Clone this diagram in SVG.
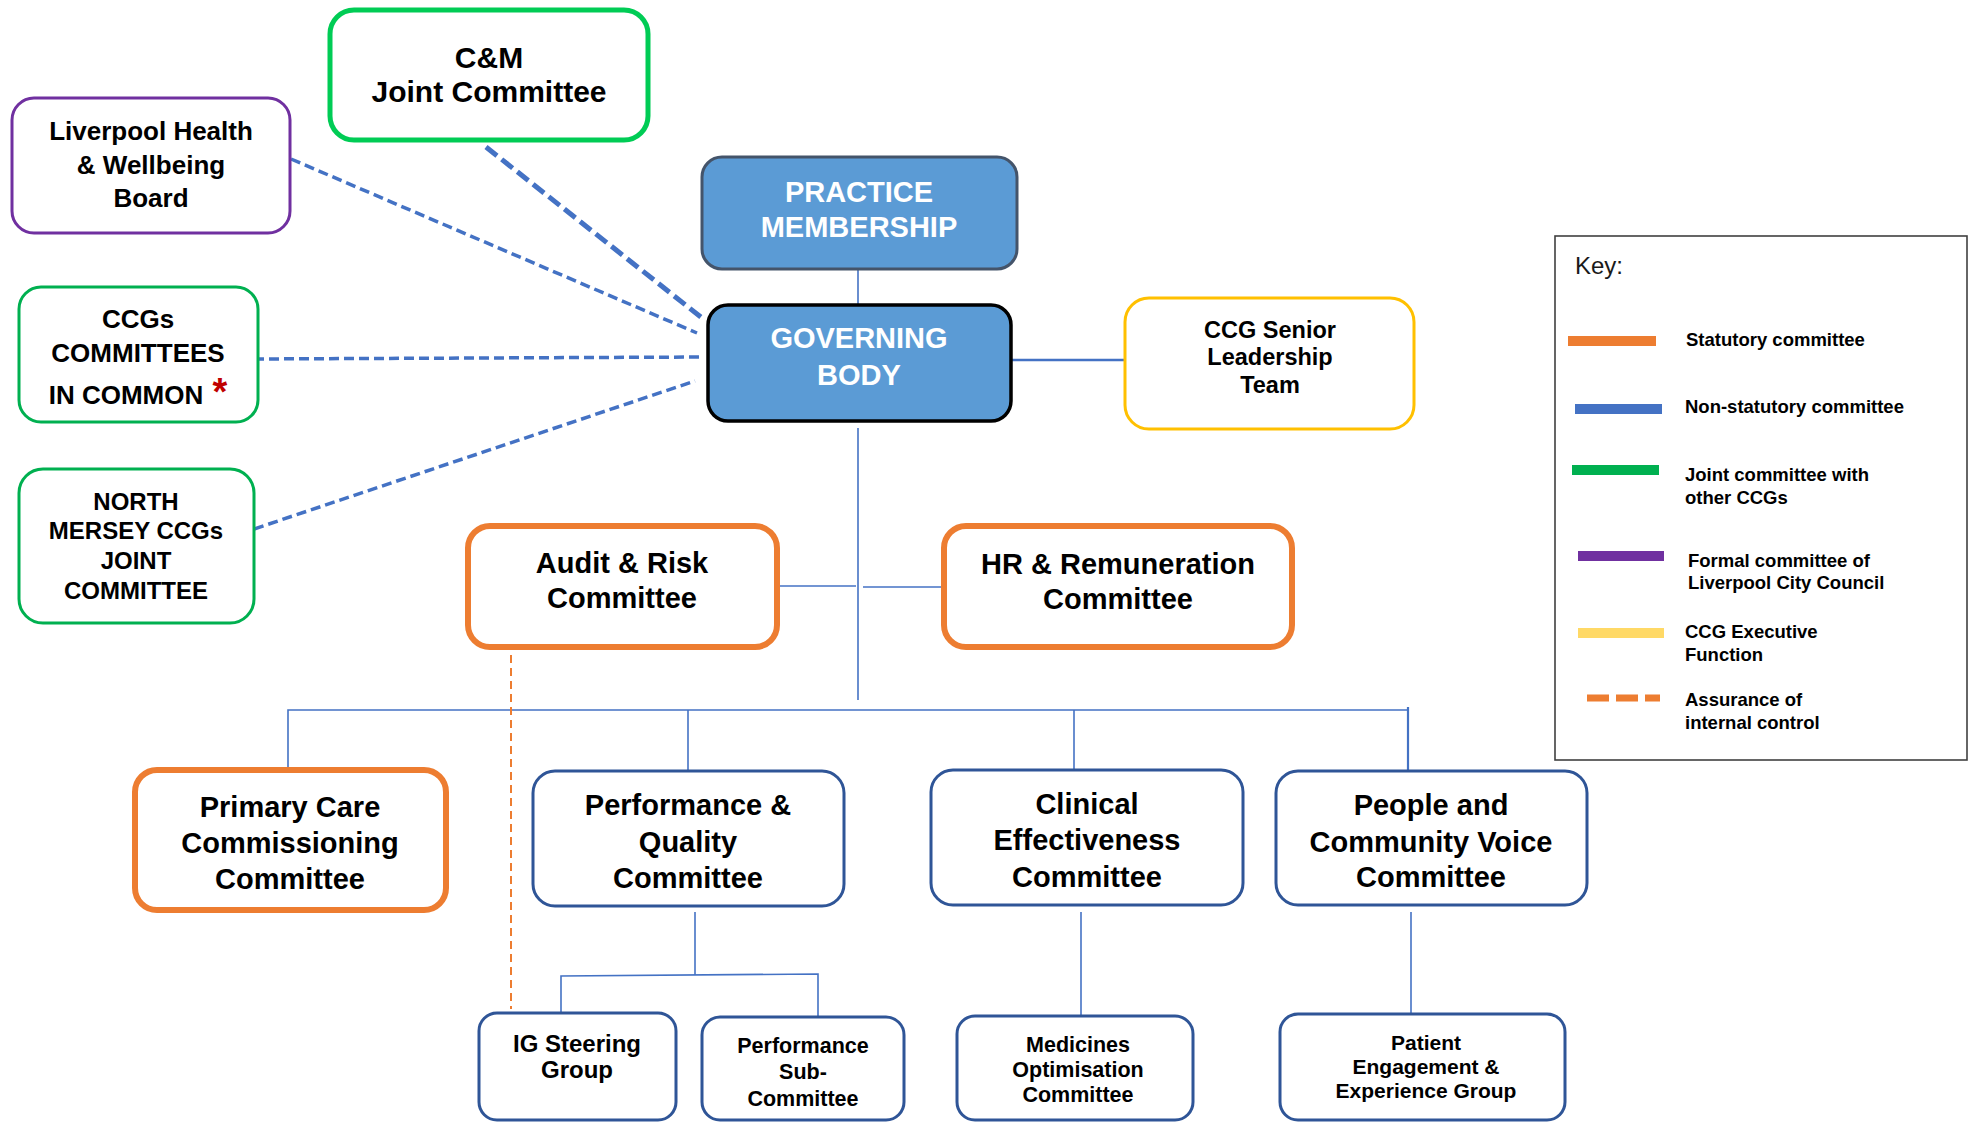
<svg xmlns="http://www.w3.org/2000/svg" width="1973" height="1123" viewBox="0 0 1973 1123">
<style>
  text { font-family: "Liberation Sans", Arial, sans-serif; font-weight: bold; fill: #000; text-anchor: middle; }
  .box { fill: #fff; }
  .stat { stroke: #ED7D31; stroke-width: 6; }
  .nonstat { stroke: #2F5597; stroke-width: 3; }
  .joint { stroke: #00B050; stroke-width: 3; }
  .conn { stroke: #4472C4; stroke-width: 1.6; fill: none; }
  .dash { stroke: #4472C4; stroke-width: 3.5; stroke-dasharray: 10 5; fill: none; }
  .w { fill: #fff; }
  .key { text-anchor: start; font-size: 18.5px; }
</style>

<g id="connectors">
  <line class="dash" x1="486" y1="147" x2="702" y2="318" style="stroke-width:5;stroke-dasharray:14 6"/>
  <line class="dash" x1="291" y1="159" x2="697" y2="333"/>
  <line class="dash" x1="254" y1="359" x2="703" y2="357"/>
  <line class="dash" x1="254" y1="529" x2="695" y2="381"/>
  <line class="conn" x1="858" y1="268" x2="858" y2="306"/>
  <line class="conn" x1="1011" y1="360" x2="1124" y2="360" style="stroke-width:2.5"/>
  <line class="conn" x1="858" y1="428" x2="858" y2="700"/>
  <line class="conn" x1="777" y1="586" x2="856" y2="586"/>
  <line class="conn" x1="863" y1="587" x2="943" y2="587"/>
  <polyline class="conn" points="288,769 288,710 1408,710"/>
  <line class="conn" x1="688" y1="710" x2="688" y2="770"/>
  <line class="conn" x1="1074" y1="710" x2="1074" y2="769"/>
  <line class="conn" x1="1408" y1="707" x2="1408" y2="770" style="stroke-width:2.2"/>
  <line class="conn" x1="695" y1="912" x2="695" y2="975"/>
  <polyline class="conn" points="561,1013 561,976 818,974 818,1017"/>
  <line class="conn" x1="1081" y1="912" x2="1081" y2="1016"/>
  <line class="conn" x1="1411" y1="912" x2="1411" y2="1014"/>
  <line x1="511" y1="642" x2="511" y2="1009" stroke="#ED7D31" stroke-width="2" stroke-dasharray="8 5"/>
</g>

<g id="cm-joint">
  <rect class="box" x="330" y="10" width="318" height="130" rx="24" stroke="#00CC55" stroke-width="5"/>
  <text x="489" y="68" font-size="30">C&amp;M</text>
  <text x="489" y="102" font-size="30">Joint Committee</text>
</g>

<g id="liverpool-hwb">
  <rect class="box" x="12" y="98" width="278" height="135" rx="22" stroke="#7030A0" stroke-width="3"/>
  <text x="151" y="140" font-size="26">Liverpool Health</text>
  <text x="151" y="174" font-size="26">&amp; Wellbeing</text>
  <text x="151" y="207" font-size="26">Board</text>
</g>

<g id="ccgs-cic">
  <rect class="box joint" x="19" y="287" width="239" height="135" rx="22"/>
  <text x="138" y="328" font-size="26">CCGs</text>
  <text x="138" y="362" font-size="26">COMMITTEES</text>
  <text x="126" y="404" font-size="26">IN COMMON</text>
  <text x="220" y="405" font-size="38" style="fill:#C00000">*</text>
</g>

<g id="north-mersey">
  <rect class="box joint" x="19" y="469" width="235" height="154" rx="24"/>
  <text x="136" y="510" font-size="24">NORTH</text>
  <text x="136" y="539" font-size="24">MERSEY CCGs</text>
  <text x="136" y="569" font-size="24">JOINT</text>
  <text x="136" y="599" font-size="24">COMMITTEE</text>
</g>

<g id="practice-membership">
  <rect x="702" y="157" width="315" height="112" rx="20" fill="#5B9BD5" stroke="#44546A" stroke-width="3"/>
  <text class="w" x="859" y="202" font-size="29">PRACTICE</text>
  <text class="w" x="859" y="237" font-size="29">MEMBERSHIP</text>
</g>

<g id="governing-body">
  <rect x="708" y="305" width="303" height="116" rx="20" fill="#5B9BD5" stroke="#000" stroke-width="3.5"/>
  <text class="w" x="859" y="348" font-size="29">GOVERNING</text>
  <text class="w" x="859" y="385" font-size="29">BODY</text>
</g>

<g id="ccg-slt">
  <rect class="box" x="1125" y="298" width="289" height="131" rx="24" stroke="#FFC000" stroke-width="3"/>
  <text x="1270" y="338" font-size="23.5">CCG Senior</text>
  <text x="1270" y="365" font-size="23.5">Leadership</text>
  <text x="1270" y="393" font-size="23.5">Team</text>
</g>

<g id="audit-risk">
  <rect class="box stat" x="468" y="526" width="309" height="121" rx="22"/>
  <text x="622" y="573" font-size="29">Audit &amp; Risk</text>
  <text x="622" y="608" font-size="29">Committee</text>
</g>

<g id="hr-remuneration">
  <rect class="box stat" x="944" y="526" width="348" height="121" rx="22"/>
  <text x="1118" y="574" font-size="29">HR &amp; Remuneration</text>
  <text x="1118" y="609" font-size="29">Committee</text>
</g>

<g id="primary-care">
  <rect class="box stat" x="135" y="770" width="311" height="140" rx="22"/>
  <text x="290" y="817" font-size="29">Primary Care</text>
  <text x="290" y="853" font-size="29">Commissioning</text>
  <text x="290" y="889" font-size="29">Committee</text>
</g>

<g id="performance-quality">
  <rect class="box nonstat" x="533" y="771" width="311" height="135" rx="22"/>
  <text x="688" y="815" font-size="29">Performance &amp;</text>
  <text x="688" y="852" font-size="29">Quality</text>
  <text x="688" y="888" font-size="29">Committee</text>
</g>

<g id="clinical-effectiveness">
  <rect class="box nonstat" x="931" y="770" width="312" height="135" rx="22"/>
  <text x="1087" y="814" font-size="29">Clinical</text>
  <text x="1087" y="850" font-size="29">Effectiveness</text>
  <text x="1087" y="887" font-size="29">Committee</text>
</g>

<g id="people-community-voice">
  <rect class="box nonstat" x="1276" y="771" width="311" height="134" rx="22"/>
  <text x="1431" y="815" font-size="29">People and</text>
  <text x="1431" y="852" font-size="29">Community Voice</text>
  <text x="1431" y="887" font-size="29">Committee</text>
</g>

<g id="ig-steering">
  <rect class="box nonstat" x="479" y="1013" width="197" height="107" rx="18"/>
  <text x="577" y="1052" font-size="24">IG Steering</text>
  <text x="577" y="1078" font-size="24">Group</text>
</g>

<g id="performance-sub">
  <rect class="box nonstat" x="702" y="1017" width="202" height="103" rx="18"/>
  <text x="803" y="1053" font-size="21.5">Performance</text>
  <text x="803" y="1079" font-size="21.5">Sub-</text>
  <text x="803" y="1106" font-size="21.5">Committee</text>
</g>

<g id="medicines-optimisation">
  <rect class="box nonstat" x="957" y="1016" width="236" height="104" rx="18"/>
  <text x="1078" y="1052" font-size="21.5">Medicines</text>
  <text x="1078" y="1077" font-size="21.5">Optimisation</text>
  <text x="1078" y="1102" font-size="21.5">Committee</text>
</g>

<g id="patient-engagement">
  <rect class="box nonstat" x="1280" y="1014" width="285" height="106" rx="18"/>
  <text x="1426" y="1050" font-size="21">Patient</text>
  <text x="1426" y="1074" font-size="21">Engagement &amp;</text>
  <text x="1426" y="1098" font-size="21">Experience Group</text>
</g>

<g id="key">
  <rect x="1555" y="236" width="412" height="524" fill="#fff" stroke="#404040" stroke-width="1.6"/>
  <text x="1575" y="274" font-size="24" style="font-weight:normal;text-anchor:start;fill:#1a1a1a">Key:</text>
  <rect x="1568" y="336" width="88" height="10" fill="#ED7D31"/>
  <text class="key" x="1686" y="346">Statutory committee</text>
  <rect x="1575" y="404" width="87" height="10" fill="#4472C4"/>
  <text class="key" x="1685" y="413">Non-statutory committee</text>
  <rect x="1572" y="465" width="87" height="10" fill="#00B050"/>
  <text class="key" x="1685" y="481">Joint committee with</text>
  <text class="key" x="1685" y="504">other CCGs</text>
  <rect x="1578" y="551" width="86" height="10" fill="#7030A0"/>
  <text class="key" x="1688" y="567">Formal committee of</text>
  <text class="key" x="1688" y="589">Liverpool City Council</text>
  <rect x="1578" y="628" width="86" height="10" fill="#FFD966"/>
  <text class="key" x="1685" y="638">CCG Executive</text>
  <text class="key" x="1685" y="661">Function</text>
  <line x1="1587" y1="698" x2="1660" y2="698" stroke="#ED7D31" stroke-width="7" stroke-dasharray="22 7"/>
  <text class="key" x="1685" y="706">Assurance of</text>
  <text class="key" x="1685" y="729">internal control</text>
</g>
</svg>
